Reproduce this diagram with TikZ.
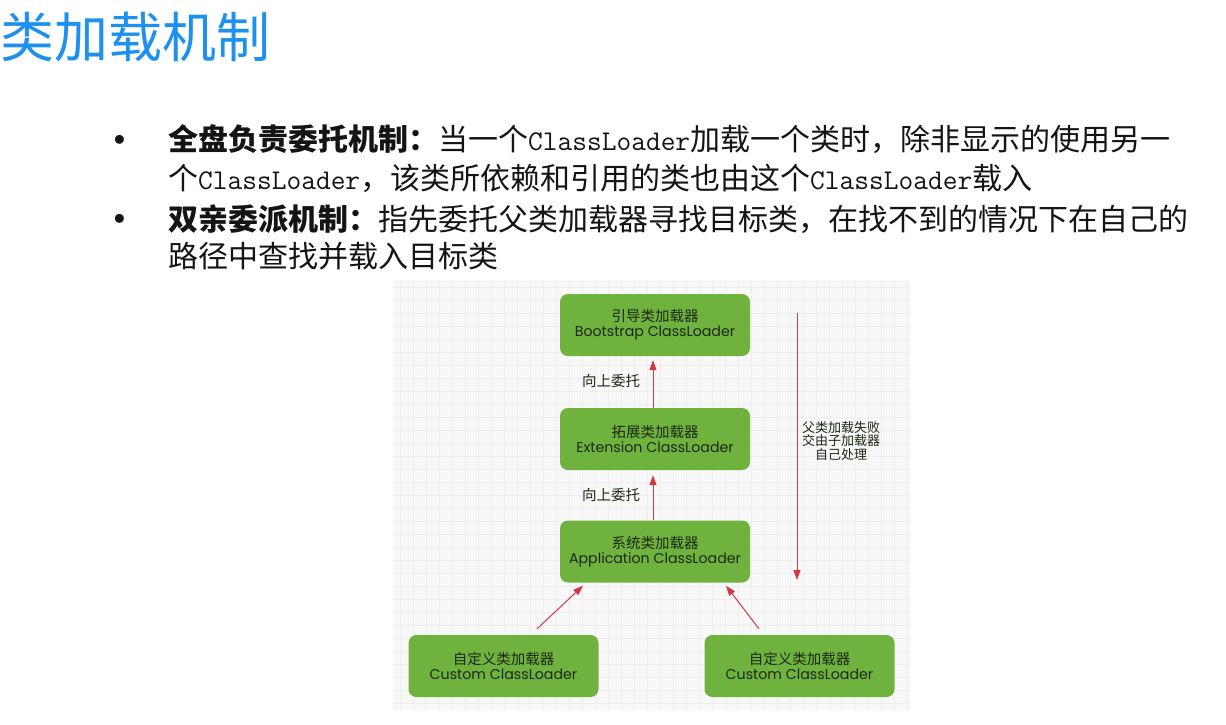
\documentclass[tikz,border=0pt]{standalone}
\usepackage{fontspec}
\usetikzlibrary{arrows.meta}
\newfontfamily\cjk{Noto Sans CJK SC}
\newfontfamily\boxfont{Poppins}
\definecolor{titleblue}{RGB}{30,144,240}
\definecolor{loadergreen}{RGB}{112,178,62}
\definecolor{loadertext}{RGB}{28,40,20}
\definecolor{flowred}{RGB}{210,55,65}
\definecolor{gridbg}{RGB}{248,248,248}
\definecolor{gridline}{RGB}{238,238,238}
\definecolor{bodytext}{RGB}{20,20,20}

\newcommand{\cn}[2]{{\cjk\fontsize{14.5}{15}\selectfont #1}\\{\boxfont\fontsize{14.2}{15}\selectfont #2}}
\newcommand{\jcl}{{\ttfamily\fontsize{28.6}{30}\selectfont ClassLoader}}

\begin{document}
\begin{tikzpicture}[x=1pt,y=-1pt,
  loader/.style={rounded corners=8pt, fill=loadergreen, text=loadertext,
    minimum width=190pt, minimum height=62pt, align=center, inner sep=0pt,
    font=\fontsize{14}{15}\selectfont},
  flow/.style={draw=flowred, line width=1pt, -{Triangle[length=10pt,width=7pt]}},
  lbl/.style={inner sep=0pt, text=loadertext, font=\cjk\fontsize{14.5}{16}\selectfont},
  bodyline/.style={anchor=base west, inner sep=0pt, text=bodytext,
    font=\cjk\fontsize{30}{34}\selectfont},
  dot/.style={inner sep=0pt, text=bodytext, font=\fontsize{40}{40}\selectfont}]

\useasboundingbox (0,0) rectangle (1226,724);
\fill[white] (0,0) rectangle (1226,724);

% page title
\node[anchor=west, inner sep=0pt, text=titleblue, font=\cjk\fontsize{54}{60}\selectfont]
  (title) at (0,37.5) {类加载机制};

% bullet list
\node[dot] (b1) at (120,143) {\textbullet};
\node[dot] (b2) at (120,222) {\textbullet};
\node[bodyline] (t1) at (168,150) {{\bfseries 全盘负责委托机制：}当一个\jcl 加载一个类时，除非显示的使用另一};
\node[bodyline] (t2) at (168,189) {个\jcl ，该类所依赖和引用的类也由这个\jcl 载入};
\node[bodyline] (t3) at (168,230) {{\bfseries 双亲委派机制：}指先委托父类加载器寻找目标类，在找不到的情况下在自己的};
\node[bodyline] (t4) at (168,267) {路径中查找并载入目标类};

% grid paper behind the loader hierarchy
\fill[gridbg] (393,280) rectangle (910,710);
\foreach \gx in {400,413,...,910} \draw[gridline, line width=0.5pt] (\gx,280) -- (\gx,710);
\foreach \gy in {287,300,...,710} \draw[gridline, line width=0.5pt] (393,\gy) -- (910,\gy);

% loaders
\node[loader] (boot) at (655,325)   {\cn{引导类加载器}{Bootstrap ClassLoader}};
\node[loader] (ext)  at (655,439)   {\cn{拓展类加载器}{Extension ClassLoader}};
\node[loader] (app)  at (655,551.5) {\cn{系统类加载器}{Application ClassLoader}};
\node[loader] (cl)   at (503.5,666) {\cn{自定义类加载器}{Custom ClassLoader}};
\node[loader] (cr)   at (799.5,666) {\cn{自定义类加载器}{Custom ClassLoader}};

% delegation upwards
\draw[flow] ([xshift=-2pt]ext.north) -- ([xshift=-2pt,yshift=-4pt]boot.south);
\draw[flow] ([xshift=-2pt]app.north) -- ([xshift=-2pt,yshift=-5pt]ext.south);
\draw[flow] ([xshift=33.5pt,yshift=6pt]cl.north) -- ([xshift=-72pt,yshift=-3pt]app.south);
\draw[flow] ([xshift=-40.5pt,yshift=6pt]cr.north) -- ([xshift=71pt,yshift=-3pt]app.south);
\node[lbl] (up1) at (611,381) {向上委托};
\node[lbl] (up2) at (611,495) {向上委托};

% fallback downwards
\coordinate (failtop) at (797,313);
\coordinate (failend) at (797,580);
\draw[flow] (failtop) -- (failend);
\node[lbl, align=center, font=\cjk\fontsize{13}{13.5}\selectfont] (fail) at (841,441)
  {父类加载失败\\交由子加载器\\自己处理};
\end{tikzpicture}
\end{document}
